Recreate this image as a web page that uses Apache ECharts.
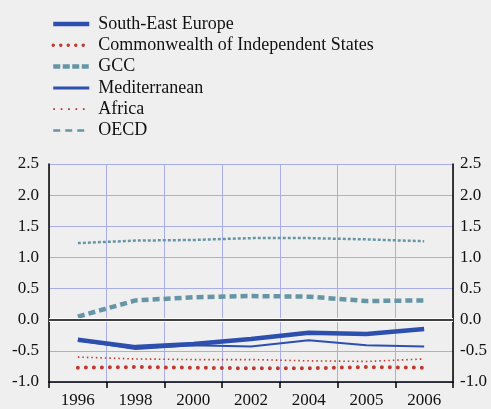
<!DOCTYPE html>
<html>
<head>
<meta charset="utf-8">
<script src="https://cdn.jsdelivr.net/npm/echarts@6/dist/echarts.min.js"></script>
<style>
html, body { margin: 0; padding: 0; background: #efefef; }
#main { width: 491px; height: 409px; }
</style>
</head>
<body>
<div id="main"></div>
<script>
// data
var years = ['1996', '1998', '2000', '2002', '2004', '2005', '2006'];
var southEastEurope = [-0.32, -0.44, -0.39, -0.31, -0.21, -0.23, -0.15];
var cis = [-0.77, -0.76, -0.77, -0.78, -0.78, -0.76, -0.77];
var gcc = [0.05, 0.31, 0.36, 0.38, 0.37, 0.30, 0.31];
var mediterranean = [-0.33, -0.47, -0.41, -0.43, -0.33, -0.41, -0.43];
var africa = [-0.60, -0.63, -0.64, -0.64, -0.66, -0.67, -0.63];
var oecd = [1.23, 1.27, 1.28, 1.31, 1.31, 1.29, 1.26];

var blue = '#2d4fae';
var red = '#bd3a2e';
var teal = '#6696a6';
var serif = '"Liberation Serif", "DejaVu Serif", serif';

var chart = echarts.init(document.getElementById('main'));

function yAxisOpt(pos) {
    return {
        type: 'value',
        position: pos,
        min: -1,
        max: 2.5,
        interval: 0.5,
        axisLine: { show: true, lineStyle: { color: '#000', width: 1.5 } },
        axisTick: { show: false },
        axisLabel: {
            color: '#111',
            fontFamily: serif,
            fontSize: 17,
            margin: pos == 'left' ? 10 : 7,
            formatter: function (v) { return v.toFixed(1); }
        },
        splitLine: { show: pos == 'left', lineStyle: { color: '#a9aee6', width: 1 } }
    };
}

function line(name, data, color, width, type, cap) {
    return {
        name: name,
        type: 'line',
        data: data,
        symbol: 'none',
        yAxisIndex: 0,
        lineStyle: { color: color, width: width, type: type, cap: cap || 'butt' },
        itemStyle: { color: color },
        z: 3
    };
}

var series = [
    line('South-East Europe', southEastEurope, blue, 4.5, 'solid'),
    line('Commonwealth of Independent States', cis, red, 4, [0, 8], 'round'),
    line('GCC', gcc, teal, 4.5, [7, 4]),
    line('Mediterranean', mediterranean, blue, 2, 'solid'),
    line('Africa', africa, red, 1.6, [1.5, 3]),
    line('OECD', oecd, teal, 2.5, [3, 2])
];
// zero line
series[0].markLine = {
    silent: true,
    symbol: 'none',
    label: { show: false },
    animation: false,
    data: [
        { yAxis: 0, lineStyle: { color: '#ffffff', width: 4, type: 'solid' } },
        { yAxis: 0, lineStyle: { color: '#000000', width: 1.5, type: 'solid' } }
    ]
};

// legend keys are drawn a bit differently from the plotted lines
var legendStyles = [
    { width: 4.5, type: 'solid' },
    { width: 3.5, type: [0, 7.5], cap: 'round' },
    { width: 4.5, type: [7, 2.5] },
    { width: 3, type: 'solid' },
    { width: 1.8, type: [1.8, 5.6] },
    { width: 2.5, type: [7, 5] }
];

chart.setOption({
    backgroundColor: '#efefef',
    animation: false,
    legend: {
        orient: 'vertical',
        left: 46,
        top: 10,
        itemWidth: 36,
        itemHeight: 14,
        itemGap: 3.3,
        itemStyle: { opacity: 0 },
        textStyle: { fontFamily: serif, fontSize: 18, lineHeight: 18, color: '#111', padding: [0, 0, 0, 4] },
        data: series.map(function (s, i) {
            return { name: s.name, lineStyle: legendStyles[i] };
        })
    },
    grid: { left: 49, right: 38, top: 164, bottom: 26 },
    xAxis: {
        type: 'category',
        data: years,
        boundaryGap: true,
        axisLine: { show: true, onZero: false, lineStyle: { color: '#000', width: 1.5 } },
        axisTick: { show: true, length: 6, lineStyle: { color: '#000', width: 1.5 } },
        axisLabel: { color: '#111', fontFamily: serif, fontSize: 17, margin: 10 },
        splitLine: { show: true, lineStyle: { color: '#a9aee6', width: 1 } }
    },
    yAxis: [yAxisOpt('left'), yAxisOpt('right')],
    series: series
});
</script>
</body>
</html>
